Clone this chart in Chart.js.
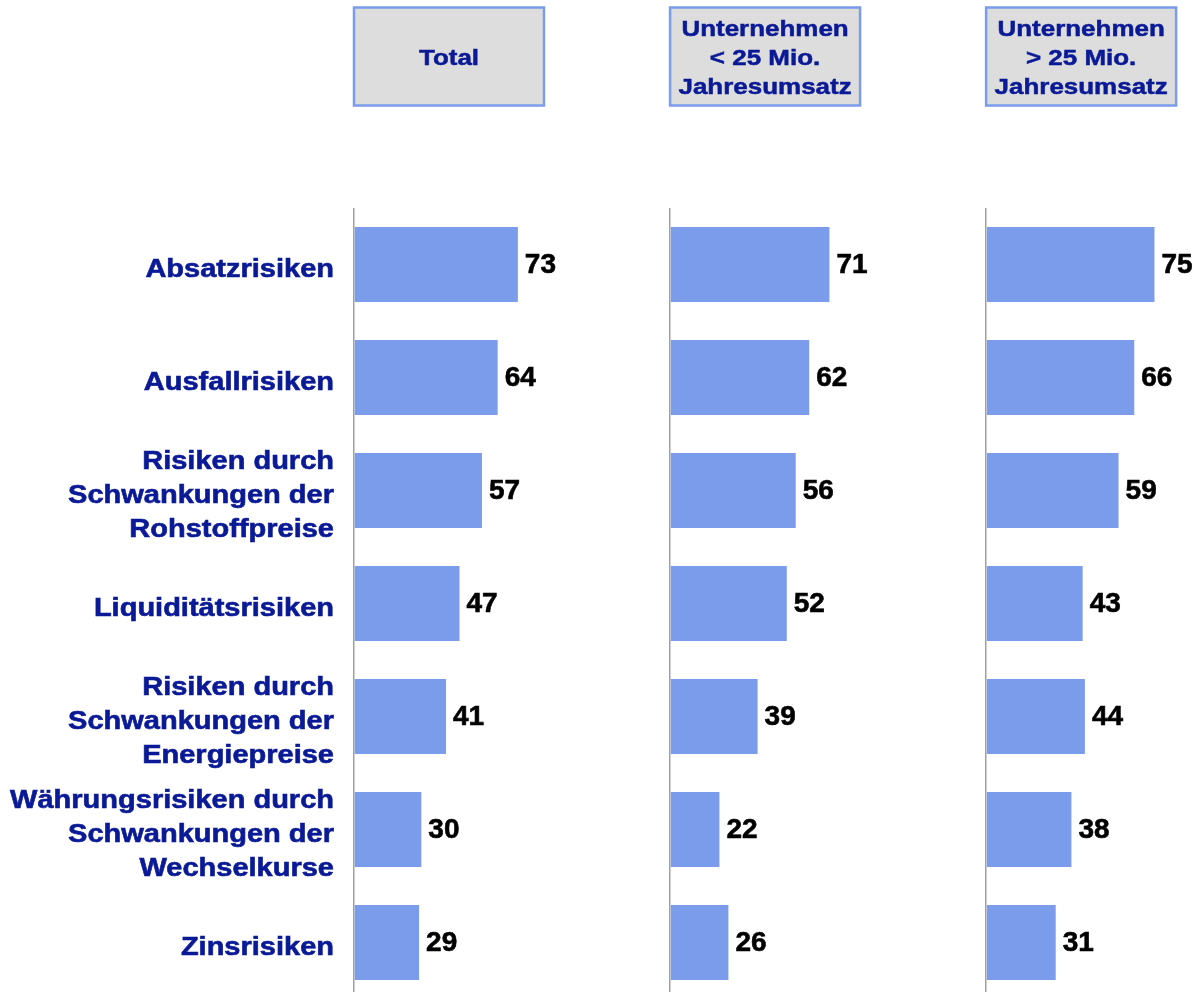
<!DOCTYPE html>
<html lang="de">
<head>
<meta charset="utf-8">
<title>Risiken</title>
<script src="https://cdn.jsdelivr.net/npm/chart.js@4.4.1/dist/chart.umd.min.js"></script>
<style>
  html, body { margin: 0; padding: 0; background: #fff; overflow: hidden; }
  #wrap { width: 1196px; height: 992px; overflow: hidden; }
  canvas { display: block; }
</style>
</head>
<body>
<div id="wrap"><canvas id="risks" width="1196" height="1000"></canvas></div>
<script>
const categories = [
  "Absatzrisiken",
  "Ausfallrisiken",
  ["Risiken durch", "Schwankungen der", "Rohstoffpreise"],
  "Liquiditätsrisiken",
  ["Risiken durch", "Schwankungen der", "Energiepreise"],
  ["Währungsrisiken durch", "Schwankungen der", "Wechselkurse"],
  "Zinsrisiken",
];
const total = [73, 64, 57, 47, 41, 30, 29];
const small = [71, 62, 56, 52, 39, 22, 26];
const large = [75, 66, 59, 43, 44, 38, 31];
const headers = [
  ["Total"],
  ["Unternehmen", "< 25 Mio.", "Jahresumsatz"],
  ["Unternehmen", "> 25 Mio.", "Jahresumsatz"],
];
// each panel is as wide as its axis range, so 100 units = same length everywhere
const panelMax = [140.8, 140.8, 93.5];

const barColor = "#7a9cea";
const labelBlue = "#0a1a96";
const font = "'Liberation Sans', Arial, sans-serif";
const panelIds = ["x1", "x2", "x3"];

// the original text is set wide and heavy: stretch it and add a thin outline
function wideText(ctx, text, x, y, sx) {
  ctx.save();
  ctx.translate(x, y);
  ctx.scale(sx, 1);
  ctx.fillText(text, 0, 0);
  ctx.strokeText(text, 0, 0);
  ctx.restore();
}

const panelHeaders = {
  id: "panelHeaders",
  afterDraw(chart) {
    const ctx = chart.ctx;
    panelIds.forEach((id, i) => {
      const left = chart.scales[id].left;
      ctx.save();
      ctx.fillStyle = "#dddddd";
      ctx.fillRect(left, 7.5, 190, 98);
      ctx.strokeStyle = barColor;
      ctx.lineWidth = 2.5;
      ctx.strokeRect(left, 7.5, 190, 98);
      ctx.fillStyle = labelBlue;
      ctx.strokeStyle = labelBlue;
      ctx.lineWidth = 0.5;
      ctx.font = `bold 22px ${font}`;
      ctx.textAlign = "center";
      ctx.textBaseline = "alphabetic";
      const lines = headers[i];
      lines.forEach((line, k) => {
        wideText(ctx, line, left + 95, 65 + (k - (lines.length - 1) / 2) * 28.7, 1.18);
      });
      ctx.restore();
    });
  },
};

const categoryLabels = {
  id: "categoryLabels",
  afterDraw(chart) {
    const ctx = chart.ctx;
    const y = chart.scales.y;
    ctx.save();
    ctx.fillStyle = labelBlue;
    ctx.strokeStyle = labelBlue;
    ctx.lineWidth = 0.6;
    ctx.font = `bold 25px ${font}`;
    ctx.textAlign = "right";
    ctx.textBaseline = "alphabetic";
    categories.forEach((cat, i) => {
      const lines = Array.isArray(cat) ? cat : [cat];
      const cy = y.getPixelForTick(i);
      lines.forEach((line, k) => {
        wideText(ctx, line, 334, cy + 12 + (k - (lines.length - 1) / 2) * 34, 1.16);
      });
    });
    ctx.restore();
  },
};

const valueLabels = {
  id: "valueLabels",
  afterDatasetsDraw(chart) {
    const ctx = chart.ctx;
    ctx.save();
    ctx.fillStyle = "#000";
    ctx.strokeStyle = "#000";
    ctx.lineWidth = 0.6;
    ctx.font = `bold 28px ${font}`;
    ctx.textAlign = "left";
    ctx.textBaseline = "middle";
    chart.data.datasets.forEach((ds, i) => {
      chart.getDatasetMeta(i).data.forEach((bar, j) => {
        ctx.fillText(ds.data[j], bar.x + 7, bar.y + 1);
        ctx.strokeText(ds.data[j], bar.x + 7, bar.y + 1);
      });
    });
    ctx.restore();
  },
};

function panelAxis(i) {
  return {
    type: "linear",
    position: "bottom",
    stack: "panels",
    stackWeight: panelMax[i],
    min: 0,
    max: panelMax[i],
    ticks: { display: false },
    border: { display: false },
    grid: {
      drawTicks: false,
      lineWidth: 1.5,
      color: (c) => (c.tick && c.tick.value === 0 ? "#a0a0a8" : "transparent"),
    },
  };
}

const series = [total, small, large];

new Chart(document.getElementById("risks"), {
  type: "bar",
  data: {
    labels: categories,
    datasets: series.map((data, i) => ({
      label: headers[i].join(" "),
      data,
      xAxisID: panelIds[i],
      yAxisID: "y",
      backgroundColor: barColor,
      borderWidth: 0,
      grouped: false,
      barPercentage: 0.664,
      categoryPercentage: 1,
    })),
  },
  options: {
    indexAxis: "y",
    responsive: false,
    animation: false,
    devicePixelRatio: 1,
    layout: { padding: { top: 208, bottom: 1, left: 0, right: 0 } },
    plugins: {
      legend: { display: false },
      tooltip: { enabled: false },
    },
    scales: {
      y: {
        type: "category",
        afterFit: (scale) => {
          scale.width = 354;
          scale.paddingTop = 0;
          scale.paddingBottom = 0;
        },
        grid: { display: false, drawTicks: false },
        border: { display: false },
        ticks: { display: false },
      },
      x1: panelAxis(0),
      x2: panelAxis(1),
      x3: panelAxis(2),
    },
  },
  plugins: [panelHeaders, categoryLabels, valueLabels],
});
</script>
</body>
</html>
